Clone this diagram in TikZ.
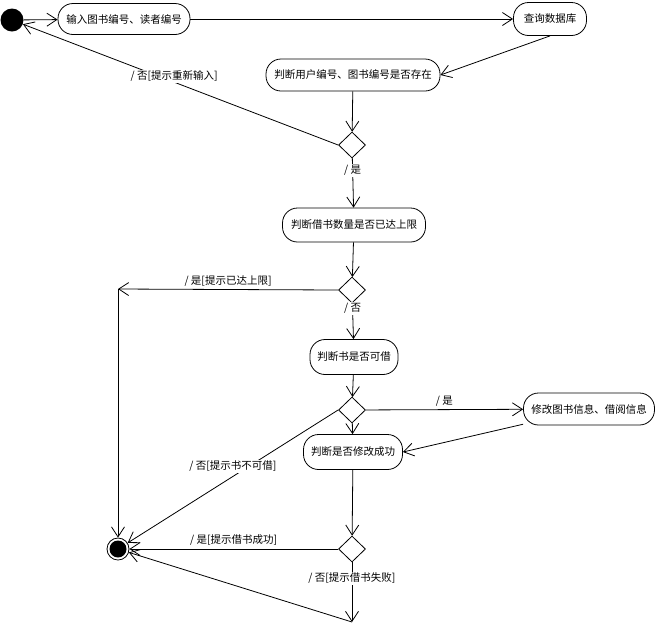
\documentclass[tikz,border=0pt]{standalone}
\usepackage{fontspec}
\newfontfamily\cjk{Noto Sans CJK SC}
\usetikzlibrary{arrows.meta,shapes.geometric}

\begin{document}
\begin{tikzpicture}[x=1pt,y=-1pt,
  act/.style={rectangle, rounded corners=15pt, draw, line width=0.8pt, minimum height=32pt,
    inner xsep=6pt, font=\cjk\fontsize{10.5}{12}\selectfont},
  choice/.style={diamond, draw, line width=0.8pt, minimum width=27pt,
    minimum height=26pt, inner sep=0pt},
  flow/.style={line width=0.8pt,
    -{Straight Barb[length=10pt,width=13pt,line width=0.8pt]}},
  lbl/.style={font=\cjk\fontsize{10.5}{12}\selectfont, inner sep=1pt},
  onl/.style={lbl, fill=white}]
\useasboundingbox (0,0) rectangle (655,625);

% activities and decisions
\node[circle, fill=black, minimum size=23pt, inner sep=0pt] (start) at (12,20) {};
\node[act, minimum width=132pt, minimum height=31pt] (in) at (124,19) {输入图书编号、读者编号};
\node[act, minimum width=73pt, minimum height=33pt] (db) at (550,19) {查询数据库};
\node[act, minimum width=174pt] (chk) at (353,75) {判断用户编号、图书编号是否存在};
\node[choice] (d1) at (352,145) {};
\node[act, minimum width=143pt, minimum height=34pt] (lim) at (354,225) {判断借书数量是否已达上限};
\node[choice] (d2) at (352,290) {};
\node[act, minimum width=88pt, minimum height=35pt] (avail) at (354,357) {判断书是否可借};
\node[choice] (d3) at (352,410) {};
\node[act, minimum width=131pt] (mod) at (589,409) {修改图书信息、借阅信息};
\node[act, minimum width=99pt, minimum height=35pt] (ok) at (353,452) {判断是否修改成功};
\node[choice] (d4) at (352,549) {};
\node[circle, draw, line width=0.8pt, minimum size=22pt, inner sep=0pt] (end) at (118,549) {};
\fill (end.center) circle (8.5pt);
\coordinate (c1) at (118,289);
\coordinate (c2) at (352,622);

% transitions
\draw[flow] (start) -- (in);
\draw[flow] (in) -- (db);
\draw[flow] (db.south) -- (chk.east);
\draw[flow] (chk) -- (d1);
\draw[flow] (d1.west) -- node[onl, pos=0.52, yshift=6pt] {/ 否[提示重新输入]} (start);
\draw[flow] (d1) -- node[onl, pos=0.25] {/ 是} (lim);
\draw[flow] (lim) -- (d2);
\draw[flow] (d2.west) -- node[lbl, above=2pt] {/ 是[提示已达上限]} (c1);
\draw[flow] (c1) -- (end);
\draw[flow] (d2) -- node[onl, pos=0.15] {/ 否} (avail);
\draw[flow] (avail) -- (d3);
\draw[flow] (d3) -- node[lbl, above=2pt] {/ 是} (mod);
\draw[flow] (mod) -- (ok.east);
\draw[flow] (d3) -- (ok);
\draw[flow] (d3.west) -- node[onl, pos=0.5, yshift=10pt] {/ 否[提示书不可借]} (end);
\draw[flow] (ok) -- (d4);
\draw[flow] (d4.west) -- node[lbl, above=2pt] {/ 是[提示借书成功]} (end);
\draw[flow] (d4) -- node[onl, pos=0.27] {/ 否[提示借书失败]} (c2);
\draw[flow] (c2) -- (end);
\end{tikzpicture}
\end{document}
